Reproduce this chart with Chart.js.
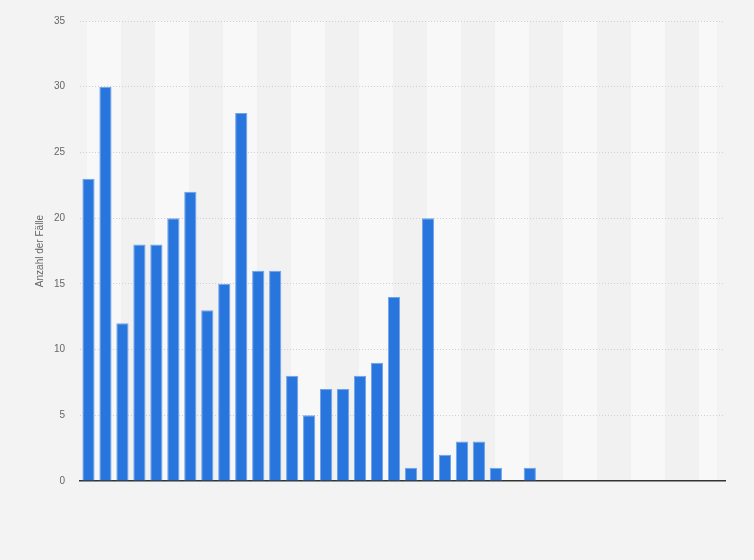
<!DOCTYPE html>
<html>
<head>
<meta charset="utf-8">
<script src="https://cdn.jsdelivr.net/npm/chart.js@4/dist/chart.umd.min.js"></script>
<style>
    html, body { margin: 0; padding: 0; background: #f3f3f3; }
    #wrap { width: 754px; height: 560px; position: relative; }
</style>
</head>
<body>
<div id="wrap"><canvas id="chart"></canvas></div>
<script>
// categories (no labels shown on the x axis)
var categories = [];
for (var i = 1; i <= 38; i++) {
    categories.push(String(i));
}
var cases = [23, 30, 12, 18, 18, 20, 22, 13, 15, 28, 16, 16, 8, 5, 7, 7, 8, 9, 14, 1,
    20, 2, 3, 3, 1, 0, 1, 0, 0, 0, 0, 0, 0, 0, 0, 0, 0, 0];
var yTicks = [0, 5, 10, 15, 20, 25, 30, 35];

var fontFamily = 'Arial, "Liberation Sans", sans-serif';

// page background + alternating vertical stripes behind the plot
var stripes = {
    id: 'stripes',
    beforeDraw: function (chart) {
        var ctx = chart.ctx;
        var area = chart.chartArea;
        ctx.save();
        ctx.fillStyle = '#f3f3f3';
        ctx.fillRect(0, 0, chart.width, chart.height);
        var start = area.left + 7;
        var end = area.right - 8;
        var w = 34;
        var n = 0;
        for (var x = start; x < end; x += w) {
            ctx.fillStyle = (n % 2 === 0) ? '#f8f8f8' : '#f1f1f1';
            ctx.fillRect(x, area.top, Math.min(w, end - x), area.bottom - area.top);
            n++;
        }
        ctx.restore();
    }
};

var ctx = document.getElementById('chart').getContext('2d');
var chart = new Chart(ctx, {
    type: 'bar',
    data: {
        labels: categories,
        datasets: [{
            label: 'Anzahl der Fälle',
            data: cases,
            backgroundColor: '#2876dd',
            borderColor: '#6fa3ea',
            borderWidth: 1,
            borderSkipped: 'bottom',
            barPercentage: 0.72,
            categoryPercentage: 1
        }]
    },
    options: {
        responsive: true,
        maintainAspectRatio: false,
        animation: false,
        layout: {
            padding: {left: 28, right: 29, top: 14, bottom: 79}
        },
        plugins: {
            legend: {display: false},
            tooltip: {enabled: false}
        },
        scales: {
            x: {
                ticks: {display: false},
                grid: {display: false, drawTicks: false},
                border: {display: true, color: '#333333', width: 1.5}
            },
            y: {
                min: 0,
                max: 35,
                afterBuildTicks: function (scale) {
                    scale.ticks = yTicks.map(function (v) { return {value: v}; });
                },
                afterFit: function (scale) {
                    scale.width = 52;
                },
                ticks: {
                    color: '#666666',
                    padding: 15,
                    font: {family: fontFamily, size: 10}
                },
                grid: {
                    color: function (c) { return c.tick.value === 0 ? 'rgba(0,0,0,0)' : '#cfcfcf'; },
                    lineWidth: 1,
                    drawTicks: false
                },
                border: {display: false, dash: [1, 2]},
                title: {
                    display: true,
                    text: 'Anzahl der Fälle',
                    color: '#666666',
                    font: {family: fontFamily, size: 10},
                    padding: {top: 6, bottom: 0}
                }
            }
        }
    },
    plugins: [stripes]
});
</script>
</body>
</html>
